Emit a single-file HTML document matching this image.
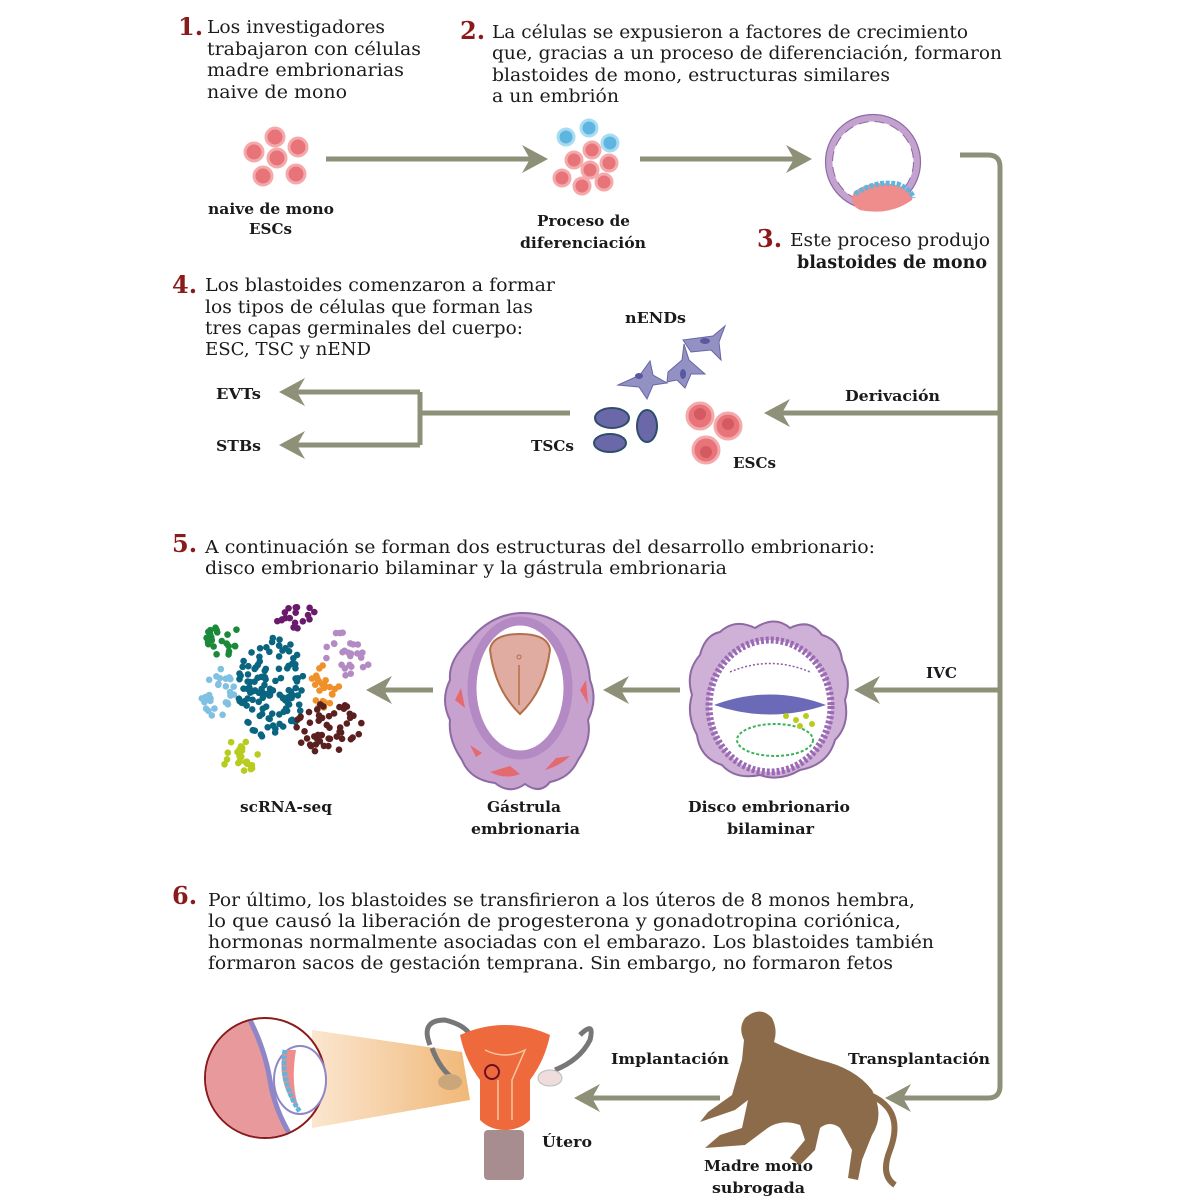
<!DOCTYPE html>
<html><head><meta charset="utf-8">
<style>
html,body{margin:0;padding:0;background:#fff;}
svg{display:block;}
text{font-family:"DejaVu Serif","Liberation Serif",serif;fill:#1a1a1a;}
.t{font-size:17.5px;}
.b{font-size:15px;font-weight:bold;}
.n{font-size:24px;font-weight:bold;fill:#8b1a1a;}
</style></head><body>
<svg width="1200" height="1200" viewBox="0 0 1200 1200" xmlns="http://www.w3.org/2000/svg">
<defs>
<linearGradient id="beam" x1="0" x2="1"><stop offset="0" stop-color="#fbe6cf"/><stop offset="1" stop-color="#f0b878"/></linearGradient>
</defs>
<g fill="none" stroke="#8e9078" stroke-width="5">
<path d="M326 159H535"/><path d="M640 159H800"/>
<path d="M960 155H988Q1000 155 1000 167V1086Q1000 1098 988 1098H898"/>
<path d="M1000 413H780"/><path d="M570 413H420M420 392V445M420 392H295M420 445H295"/>
<path d="M1000 690H870"/><path d="M680 690H620"/><path d="M433 690H383"/>
<path d="M720 1098H590"/>
</g>
<g fill="#8e9078">
<path d="M548 159l-26-14 8 14-8 14z"/><path d="M812 159l-26-14 8 14-8 14z"/>
<path d="M885 1098l26-14-8 14 8 14z"/><path d="M764 413l26-14-8 14 8 14z"/>
<path d="M279 392l26-14-8 14 8 14z"/><path d="M279 445l26-14-8 14 8 14z"/>
<path d="M854 690l26-14-8 14 8 14z"/><path d="M603 690l26-14-8 14 8 14z"/>
<path d="M366 690l26-14-8 14 8 14z"/><path d="M574 1098l26-14-8 14 8 14z"/>
</g>
<!-- text -->
<text class="n" x="178" y="35">1.</text>
<text class="t" lengthAdjust="spacingAndGlyphs" x="207" y="33" textLength="178">Los investigadores</text>
<text class="t" lengthAdjust="spacingAndGlyphs" x="207" y="55" textLength="214">trabajaron con células</text>
<text class="t" lengthAdjust="spacingAndGlyphs" x="207" y="76" textLength="197">madre embrionarias</text>
<text class="t" lengthAdjust="spacingAndGlyphs" x="207" y="98" textLength="140">naive de mono</text>
<text class="n" x="460" y="39">2.</text>
<text class="t" lengthAdjust="spacingAndGlyphs" x="492" y="38" textLength="476">La células se expusieron a factores de crecimiento</text>
<text class="t" lengthAdjust="spacingAndGlyphs" x="492" y="59" textLength="510">que, gracias a un proceso de diferenciación, formaron</text>
<text class="t" lengthAdjust="spacingAndGlyphs" x="492" y="81" textLength="398">blastoides de mono, estructuras similares</text>
<text class="t" lengthAdjust="spacingAndGlyphs" x="492" y="102" textLength="127">a un embrión</text>
<text class="b" lengthAdjust="spacingAndGlyphs" x="208" y="214" textLength="126">naive de mono</text>
<text class="b" lengthAdjust="spacingAndGlyphs" x="249" y="234" textLength="43">ESCs</text>
<text class="b" lengthAdjust="spacingAndGlyphs" x="537" y="226" textLength="93">Proceso de</text>
<text class="b" lengthAdjust="spacingAndGlyphs" x="520" y="248" textLength="126">diferenciación</text>
<text class="n" x="757" y="247">3.</text>
<text class="t" lengthAdjust="spacingAndGlyphs" x="790" y="246" textLength="200">Este proceso produjo</text>
<text class="t" lengthAdjust="spacingAndGlyphs" x="797" y="268" textLength="190" font-weight="bold">blastoides de mono</text>
<text class="n" x="172" y="293">4.</text>
<text class="t" lengthAdjust="spacingAndGlyphs" x="205" y="291" textLength="350">Los blastoides comenzaron a formar</text>
<text class="t" lengthAdjust="spacingAndGlyphs" x="205" y="313" textLength="328">los tipos de células que forman las</text>
<text class="t" lengthAdjust="spacingAndGlyphs" x="205" y="334" textLength="318">tres capas germinales del cuerpo:</text>
<text class="t" lengthAdjust="spacingAndGlyphs" x="205" y="355" textLength="166">ESC, TSC y nEND</text>
<text class="b" lengthAdjust="spacingAndGlyphs" x="625" y="323" textLength="61">nENDs</text>
<text class="b" lengthAdjust="spacingAndGlyphs" x="845" y="401" textLength="95">Derivación</text>
<text class="b" lengthAdjust="spacingAndGlyphs" x="733" y="468" textLength="43">ESCs</text>
<text class="b" lengthAdjust="spacingAndGlyphs" x="531" y="451" textLength="43">TSCs</text>
<text class="b" lengthAdjust="spacingAndGlyphs" x="216" y="399" textLength="45">EVTs</text>
<text class="b" lengthAdjust="spacingAndGlyphs" x="216" y="451" textLength="45">STBs</text>
<text class="n" x="172" y="552">5.</text>
<text class="t" lengthAdjust="spacingAndGlyphs" x="205" y="553" textLength="670">A continuación se forman dos estructuras del desarrollo embrionario:</text>
<text class="t" lengthAdjust="spacingAndGlyphs" x="205" y="574" textLength="522">disco embrionario bilaminar y la gástrula embrionaria</text>
<text class="b" lengthAdjust="spacingAndGlyphs" x="926" y="678" textLength="31">IVC</text>
<text class="b" lengthAdjust="spacingAndGlyphs" x="240" y="812" textLength="92">scRNA-seq</text>
<text class="b" lengthAdjust="spacingAndGlyphs" x="487" y="812" textLength="74">Gástrula</text>
<text class="b" lengthAdjust="spacingAndGlyphs" x="471" y="834" textLength="109">embrionaria</text>
<text class="b" lengthAdjust="spacingAndGlyphs" x="688" y="812" textLength="162">Disco embrionario</text>
<text class="b" lengthAdjust="spacingAndGlyphs" x="727" y="834" textLength="87">bilaminar</text>
<text class="n" x="172" y="904">6.</text>
<text class="t" lengthAdjust="spacingAndGlyphs" x="208" y="906" textLength="707">Por último, los blastoides se transfirieron a los úteros de 8 monos hembra,</text>
<text class="t" lengthAdjust="spacingAndGlyphs" x="208" y="927" textLength="693">lo que causó la liberación de progesterona y gonadotropina coriónica,</text>
<text class="t" lengthAdjust="spacingAndGlyphs" x="208" y="948" textLength="726">hormonas normalmente asociadas con el embarazo. Los blastoides también</text>
<text class="t" lengthAdjust="spacingAndGlyphs" x="208" y="969" textLength="685">formaron sacos de gestación temprana. Sin embargo, no formaron fetos</text>
<text class="b" lengthAdjust="spacingAndGlyphs" x="611" y="1064" textLength="118">Implantación</text>
<text class="b" lengthAdjust="spacingAndGlyphs" x="848" y="1064" textLength="142">Transplantación</text>
<text class="b" lengthAdjust="spacingAndGlyphs" x="542" y="1147" textLength="50">Útero</text>
<text class="b" lengthAdjust="spacingAndGlyphs" x="704" y="1171" textLength="109">Madre mono</text>
<text class="b" lengthAdjust="spacingAndGlyphs" x="712" y="1193" textLength="93">subrogada</text>

<!-- cells group 1 -->
<g fill="#e8747a" stroke="#f4a9ab" stroke-width="3">
<circle cx="275" cy="137" r="9"/><circle cx="254" cy="152" r="9"/><circle cx="298" cy="147" r="9"/><circle cx="277" cy="158" r="9"/><circle cx="263" cy="176" r="9"/><circle cx="296" cy="174" r="9"/>
</g>
<g fill="#5eb6e0" stroke="#a8dcf2" stroke-width="3">
<circle cx="566" cy="137" r="8"/><circle cx="589" cy="128" r="8"/><circle cx="610" cy="143" r="8"/>
</g>
<g fill="#e8747a" stroke="#f4a9ab" stroke-width="3">
<circle cx="574" cy="160" r="8"/><circle cx="592" cy="150" r="8"/><circle cx="609" cy="163" r="8"/><circle cx="590" cy="170" r="8"/><circle cx="562" cy="178" r="8"/><circle cx="582" cy="186" r="8"/><circle cx="604" cy="182" r="8"/>
</g>
<!-- blastoid -->
<circle cx="873" cy="162" r="44" fill="#fff" stroke="#c3a2cf" stroke-width="7"/>
<circle cx="873" cy="162" r="47.5" fill="none" stroke="#8d6aa3" stroke-width="1.2"/>
<circle cx="873" cy="162" r="40.5" fill="none" stroke="#8d6aa3" stroke-width="1" stroke-dasharray="10 6"/>
<path d="M854 192Q873 178 900 186Q915 192 912 200Q890 216 860 210Q848 204 854 192Z" fill="#ef8c8c"/>
<path d="M855 194Q875 180 898 184Q912 190 913 198" fill="none" stroke="#5eb6e0" stroke-width="5" stroke-dasharray="4 1.5"/>
<!-- nENDs -->
<g fill="#9391c4" stroke="#6866a4" stroke-width="1">
<path d="M618 385l22-10 10-14 3 14 14 8-14 2-6 14-8-12z"/>
<path d="M668 372l14-12 2-16 5 16 16 14-14 0-6 14-8-8-10 2z"/>
<path d="M683 340l30-4 12-10-6 16 2 18-10-10-20 2z"/>
</g>
<g fill="#5a58a0"><ellipse cx="639" cy="376" rx="4" ry="3"/><ellipse cx="683" cy="374" rx="3" ry="5"/><ellipse cx="705" cy="341" rx="5" ry="3"/></g>
<!-- TSCs -->
<g fill="#6a68a8" stroke="#2e4e6a" stroke-width="2">
<ellipse cx="612" cy="418" rx="17" ry="10"/><ellipse cx="647" cy="426" rx="10" ry="16"/><ellipse cx="610" cy="443" rx="16" ry="9"/>
</g>
<g fill="#e8747a" stroke="#f4a9ab" stroke-width="3">
<circle cx="700" cy="416" r="13"/><circle cx="728" cy="426" r="13"/><circle cx="706" cy="450" r="13"/>
</g>
<g fill="#d45a62"><circle cx="700" cy="414" r="6"/><circle cx="728" cy="424" r="6"/><circle cx="706" cy="452" r="6"/></g>
<!-- disco -->
<path d="M700 655Q705 635 720 632Q735 618 755 628Q775 615 790 628Q810 618 822 635Q840 640 842 660Q852 680 845 700Q850 725 835 740Q828 765 800 770Q780 782 760 775Q735 780 722 765Q700 758 697 735Q686 715 692 695Q685 672 700 655Z" fill="#cfb0d6" stroke="#8d6aa3" stroke-width="2"/>
<ellipse cx="770" cy="706" rx="61" ry="66" fill="#fff" stroke="#9a6ab4" stroke-width="7" stroke-dasharray="3 2"/>
<path d="M714 705Q770 684 826 705Q770 724 714 705Z" fill="#6a6ab8"/>
<path d="M730 672Q770 655 810 672" fill="none" stroke="#8d5ea8" stroke-width="1.5" stroke-dasharray="2 2"/>
<ellipse cx="775" cy="740" rx="38" ry="16" fill="none" stroke="#3bb35a" stroke-width="2" stroke-dasharray="3 2"/>
<g fill="#b8cc20"><circle cx="786" cy="716" r="3"/><circle cx="796" cy="720" r="3"/><circle cx="806" cy="716" r="3"/><circle cx="800" cy="726" r="3"/><circle cx="812" cy="724" r="3"/></g>
<!-- gastrula -->
<path d="M470 640Q490 615 520 613Q548 612 568 630Q588 650 590 680Q598 700 588 720Q592 740 578 760Q570 778 550 782Q540 795 525 784Q510 795 495 783Q470 780 462 760Q448 740 450 720Q440 700 450 680Q448 660 470 640Z" fill="#c7a2cf" stroke="#8d6aa3" stroke-width="2"/>
<g fill="#e56a70"><path d="M455 700l6-12 4 20z"/><path d="M580 690l6-10 2 24z"/><path d="M490 772q15 8 30 2l-10-8z"/><path d="M545 770q15-4 25-14l-14 2z"/><path d="M470 745l6 12 6-4z"/></g>
<ellipse cx="520" cy="688" rx="48" ry="67" fill="#fff" stroke="#b48ac4" stroke-width="9"/>
<path d="M490 650Q492 634 520 634Q548 634 550 650Q545 690 520 714Q495 690 490 650Z" fill="#e0aba0" stroke="#b37048" stroke-width="2"/>
<path d="M519 665v40" stroke="#b37048" stroke-width="1.5"/><circle cx="519" cy="657" r="2" fill="none" stroke="#b37048"/>
<!-- inset -->
<path d="M312 1030L462 1052L470 1100L312 1128Z" fill="url(#beam)"/>
<circle cx="265" cy="1078" r="60" fill="#fff" stroke="#8b1a1a" stroke-width="2"/>
<clipPath id="cc"><circle cx="265" cy="1078" r="59"/></clipPath>
<g clip-path="url(#cc)">
<path d="M200 1020L250 1020Q265 1050 270 1080Q275 1115 300 1150L200 1150Z" fill="#e8999c"/>
<path d="M250 1020Q265 1050 270 1080Q275 1115 300 1150" fill="none" stroke="#8f86c8" stroke-width="5"/>
</g>
<ellipse cx="300" cy="1080" rx="26" ry="34" fill="#fff" stroke="#8f86c8" stroke-width="2"/>
<path d="M283 1050Q276 1085 300 1112Q290 1085 296 1050Z" fill="#ef8c8c"/>
<path d="M285 1050Q280 1082 300 1112" stroke="#5eb6e0" stroke-width="5" fill="none" stroke-dasharray="4 1.5"/>
<!-- uterus -->
<path d="M430 1045Q420 1020 445 1020Q465 1025 470 1035M432 1048Q440 1070 455 1080" stroke="#777" stroke-width="5" fill="none"/>
<path d="M580 1035Q595 1020 590 1040Q580 1060 555 1070" stroke="#777" stroke-width="5" fill="none"/>
<ellipse cx="450" cy="1082" rx="12" ry="8" fill="#c9a77a"/>
<ellipse cx="550" cy="1078" rx="12" ry="8" fill="#efdcdc" stroke="#bbb"/>
<path d="M460 1035Q505 1015 550 1035Q545 1060 530 1080L530 1120Q520 1130 505 1130Q490 1130 480 1120L480 1080Q465 1060 460 1035Z" fill="#ee6a3c"/>
<path d="M485 1050Q505 1060 525 1050L512 1080V1120M498 1080V1120" stroke="#f7c6a0" stroke-width="1.5" fill="none"/>
<rect x="484" y="1130" width="40" height="50" rx="4" fill="#a88d90"/>
<circle cx="492" cy="1072" r="7" fill="none" stroke="#6a1020" stroke-width="2"/>
<!-- monkey -->
<g fill="#8c6b4a">
<path d="M745 1018Q760 1005 772 1018Q778 1030 774 1042Q790 1050 820 1060Q855 1068 872 1090Q885 1115 872 1135L862 1160L858 1180L848 1178L852 1150L840 1128Q830 1120 820 1128L815 1150L800 1165L790 1158L805 1140L800 1125Q780 1118 765 1130L745 1145L705 1148L720 1135L742 1128L748 1100L735 1110L700 1122L708 1112L732 1095L742 1060L744 1040Q738 1028 745 1018Z"/>
</g>
<path d="M870 1095Q905 1110 890 1150Q880 1175 895 1185" stroke="#8c6b4a" stroke-width="6" fill="none"/>
<g id="dots"></g>
</svg>
<script>
(function(){var g=document.getElementById('dots');var seed=7;function r(){seed=(seed*9301+49297)%233280;return seed/233280;}
function cl(cx,cy,rx,ry,n,c,rad){for(var i=0;i<n;i++){var a=r()*6.283,d=Math.sqrt(r());var e=document.createElementNS('http://www.w3.org/2000/svg','circle');e.setAttribute('cx',cx+Math.cos(a)*rx*d);e.setAttribute('cy',cy+Math.sin(a)*ry*d);e.setAttribute('r',rad||3.3);e.setAttribute('fill',c);g.appendChild(e);}}
cl(220,637,18,20,22,'#1a8a3a');cl(296,617,22,12,18,'#6a1a6a');cl(348,652,24,24,26,'#b48ac4');
cl(272,688,34,52,120,'#0a6580');cl(218,692,18,28,30,'#80c0e0');cl(323,686,16,22,24,'#f0902a');
cl(328,728,36,26,50,'#5a2020');cl(240,757,18,18,22,'#b8cc20');
})();
</script>
</body></html>
